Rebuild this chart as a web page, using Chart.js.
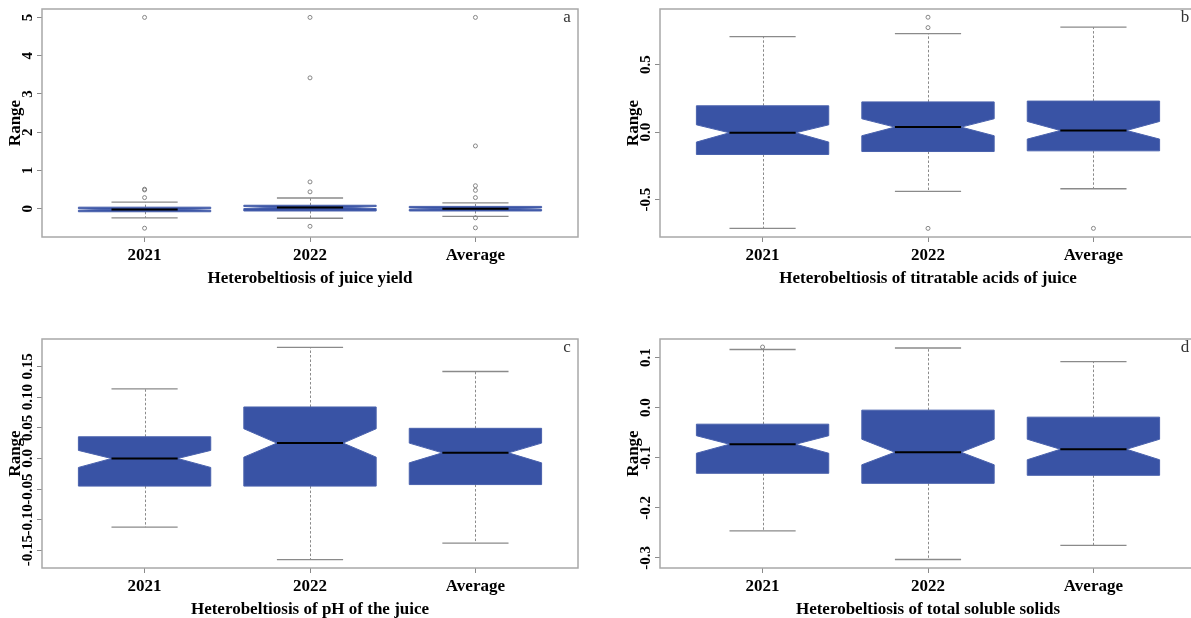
<!DOCTYPE html>
<html>
<head>
<meta charset="utf-8">
<script src="https://cdn.jsdelivr.net/npm/chart.js@4.4.1/dist/chart.umd.min.js"></script>
<style>
  html, body { margin: 0; padding: 0; background: #fff; width: 1191px; height: 618px; overflow: hidden; position: relative; }
  canvas { position: absolute; }
</style>
</head>
<body>
<canvas id="panelA"></canvas>
<canvas id="panelB"></canvas>
<canvas id="panelC"></canvas>
<canvas id="panelD"></canvas>
<script>
// ---- categories ----
const categories = ['2021', '2022', 'Average'];

// ---- (a) heterobeltiosis of juice yield ----
const yieldLow     = [-0.24, -0.25, -0.20];
const yieldQ1      = [-0.08, -0.06, -0.06];
const yieldNotchLo = [-0.041, 0.003, -0.021];
const yieldMedian  = [-0.02, 0.03, 0.00];
const yieldNotchHi = [0.001, 0.057, 0.021];
const yieldQ3      = [0.04, 0.09, 0.06];
const yieldHigh    = [0.17, 0.28, 0.15];
const yieldOut2021 = [5.00, 0.51, 0.49, 0.29, -0.51];
const yieldOut2022 = [5.00, 3.42, 0.70, 0.44, -0.46];
const yieldOutAvg  = [5.00, 1.64, 0.60, 0.48, 0.29, -0.24, -0.50];
const yieldTicks   = [0, 1, 2, 3, 4, 5];
const yieldTickLabels = ['0', '1', '2', '3', '4', '5'];

// ---- (b) heterobeltiosis of titratable acids ----
const acidLow     = [-0.714, -0.440, -0.420];
const acidQ1      = [-0.166, -0.144, -0.139];
const acidNotchLo = [-0.074, -0.027, -0.052];
const acidMedian  = [-0.005, 0.037, 0.012];
const acidNotchHi = [0.054, 0.099, 0.079];
const acidQ3      = [0.195, 0.224, 0.230];
const acidHigh    = [0.708, 0.730, 0.778];
const acidOut2021 = [];
const acidOut2022 = [0.852, 0.775, -0.714];
const acidOutAvg  = [-0.714];
const acidTicks   = [-0.5, 0, 0.5];
const acidTickLabels = ['-0.5', '0.0', '0.5'];

// ---- (c) heterobeltiosis of juice pH ----
const phLow     = [-0.112, -0.165, -0.138];
const phQ1      = [-0.045, -0.045, -0.0425];
const phNotchLo = [-0.0146, 0.0022, -0.0071];
const phMedian  = [0.000, 0.0251, 0.0092];
const phNotchHi = [0.0132, 0.0485, 0.0251];
const phQ3      = [0.0354, 0.0840, 0.0492];
const phHigh    = [0.1135, 0.181, 0.1418];
const phOut2021 = [];
const phOut2022 = [];
const phOutAvg  = [];
const phTicks   = [-0.15, -0.10, -0.05, 0, 0.05, 0.10, 0.15];
const phTickLabels = ['-0.15', '-0.10', '-0.05', '0.0', '0.05', '0.10', '0.15'];

// ---- (d) heterobeltiosis of total soluble solids ----
const tssLow     = [-0.246, -0.303, -0.275];
const tssQ1      = [-0.131, -0.151, -0.135];
const tssNotchLo = [-0.091, -0.114, -0.104];
const tssMedian  = [-0.073, -0.089, -0.083];
const tssNotchHi = [-0.056, -0.063, -0.063];
const tssQ3      = [-0.033, -0.005, -0.019];
const tssHigh    = [0.116, 0.119, 0.092];
const tssOut2021 = [0.121];
const tssOut2022 = [];
const tssOutAvg  = [];
const tssTicks   = [-0.3, -0.2, -0.1, 0, 0.1];
const tssTickLabels = ['-0.3', '-0.2', '-0.1', '0.0', '0.1'];

// ---- styling ----
const SERIF = '"Liberation Serif", "Times New Roman", serif';
const BOX_FILL = '#3953a5';
const LINE_GREY = '#8a8a8a';
const FRAME_GREY = '#a8a8a8';
const BOX_HALF = 0.4;      // half box width in category units
const NOTCH_HALF = 0.2;    // half width at the median / whisker caps
const Y_AXIS_W = 37;
const X_AXIS_H = 52;
const PAD_TOP = 9;
const PAD_RIGHT = 5;

Chart.defaults.font.family = SERIF;

function outlierPoints(lists) {
  const pts = [];
  lists.forEach((list, i) => list.forEach(v => pts.push({ x: i + 1, y: v })));
  return pts;
}

// notched box-and-whisker drawing, positioned through the chart scales
function notchedBoxPlugin(stats) {
  return {
    id: 'notchedBoxes',
    beforeDatasetsDraw(chart) {
      const { ctx, chartArea, scales: { x, y } } = chart;
      const px = v => x.getPixelForValue(v);
      const py = v => y.getPixelForValue(v);
      ctx.save();
      // frame
      ctx.strokeStyle = FRAME_GREY;
      ctx.lineWidth = 1.5;
      ctx.strokeRect(chartArea.left, chartArea.top, chartArea.right - chartArea.left, chartArea.bottom - chartArea.top);
      for (let i = 0; i < categories.length; i++) {
        const c = i + 1;
        const xc = Math.round(px(c)) + 0.5;
        const xl = px(c - BOX_HALF), xr = px(c + BOX_HALF);
        const xnl = px(c - NOTCH_HALF), xnr = px(c + NOTCH_HALF);
        // dashed whiskers
        ctx.strokeStyle = LINE_GREY;
        ctx.lineWidth = 1;
        ctx.setLineDash([2.5, 2]);
        ctx.beginPath();
        ctx.moveTo(xc, py(stats.q3[i])); ctx.lineTo(xc, py(stats.high[i]));
        ctx.moveTo(xc, py(stats.q1[i])); ctx.lineTo(xc, py(stats.low[i]));
        ctx.stroke();
        ctx.setLineDash([]);
        // whisker caps
        ctx.lineWidth = 1.3;
        ctx.beginPath();
        ctx.moveTo(xnl, py(stats.high[i])); ctx.lineTo(xnr, py(stats.high[i]));
        ctx.moveTo(xnl, py(stats.low[i])); ctx.lineTo(xnr, py(stats.low[i]));
        ctx.stroke();
        // notched box
        ctx.beginPath();
        ctx.moveTo(xl, py(stats.q3[i]));
        ctx.lineTo(xr, py(stats.q3[i]));
        ctx.lineTo(xr, py(stats.notchHi[i]));
        ctx.lineTo(xnr, py(stats.median[i]));
        ctx.lineTo(xr, py(stats.notchLo[i]));
        ctx.lineTo(xr, py(stats.q1[i]));
        ctx.lineTo(xl, py(stats.q1[i]));
        ctx.lineTo(xl, py(stats.notchLo[i]));
        ctx.lineTo(xnl, py(stats.median[i]));
        ctx.lineTo(xl, py(stats.notchHi[i]));
        ctx.closePath();
        ctx.fillStyle = BOX_FILL;
        ctx.fill();
        ctx.strokeStyle = '#4a62ad';
        ctx.lineWidth = 1;
        ctx.stroke();
        // median
        ctx.strokeStyle = '#000';
        ctx.lineWidth = 2;
        ctx.beginPath();
        ctx.moveTo(xnl, py(stats.median[i])); ctx.lineTo(xnr, py(stats.median[i]));
        ctx.stroke();
      }
      ctx.restore();
    }
  };
}

// rotated value labels on the y axis and the panel letter
function axisLabelPlugin(tickValues, tickLabels, letter) {
  return {
    id: 'rotatedTicks',
    afterDraw(chart) {
      const { ctx, chartArea, scales: { y } } = chart;
      ctx.save();
      ctx.fillStyle = '#000';
      ctx.font = 'bold 15px ' + SERIF;
      ctx.textAlign = 'center';
      ctx.textBaseline = 'middle';
      tickValues.forEach((v, k) => {
        ctx.save();
        ctx.translate(chartArea.left - 14, y.getPixelForValue(v));
        ctx.rotate(-Math.PI / 2);
        ctx.fillText(tickLabels[k], 0, 0);
        ctx.restore();
      });
      ctx.font = '17px ' + SERIF;
      ctx.fillStyle = '#333';
      ctx.fillText(letter, chartArea.right - 11, chartArea.top + 9);
      ctx.restore();
    }
  };
}

function makePanel(canvasId, plotBox, spec) {
  const canvas = document.getElementById(canvasId);
  const w = Y_AXIS_W + (plotBox.right - plotBox.left) + PAD_RIGHT;
  const h = PAD_TOP + (plotBox.bottom - plotBox.top) + X_AXIS_H;
  canvas.width = w; canvas.height = h;
  canvas.style.width = w + 'px'; canvas.style.height = h + 'px';
  canvas.style.left = (plotBox.left - Y_AXIS_W) + 'px';
  canvas.style.top = (plotBox.top - PAD_TOP) + 'px';

  return new Chart(canvas, {
    type: 'scatter',
    data: {
      datasets: [{
        data: outlierPoints(spec.outliers),
        pointStyle: 'circle',
        pointRadius: 2,
        pointBorderWidth: 0.9,
        pointBorderColor: '#7a7a7a',
        pointBackgroundColor: 'rgba(0,0,0,0)'
      }]
    },
    options: {
      responsive: false,
      animation: false,
      devicePixelRatio: 1,
      layout: { padding: { left: 0, top: PAD_TOP, right: PAD_RIGHT, bottom: 0 } },
      plugins: { legend: { display: false }, tooltip: { enabled: false } },
      scales: {
        x: {
          type: 'linear',
          min: 0.38, max: 3.62,
          afterBuildTicks: s => { s.ticks = categories.map((_, i) => ({ value: i + 1 })); },
          afterFit: s => { s.height = X_AXIS_H; },
          ticks: {
            callback: v => categories[v - 1],
            color: '#000',
            font: { family: SERIF, size: 17, weight: 'bold' },
            padding: 3,
            maxRotation: 0, minRotation: 0, autoSkip: false
          },
          grid: { drawOnChartArea: false, drawTicks: true, tickLength: 5, color: LINE_GREY, lineWidth: 1 },
          border: { display: false },
          title: {
            display: true, text: spec.title, color: '#000',
            font: { family: SERIF, size: 17, weight: 'bold' },
            padding: 0
          }
        },
        y: {
          type: 'linear',
          min: spec.yMin, max: spec.yMax,
          afterBuildTicks: s => { s.ticks = spec.ticks.map(v => ({ value: v })); },
          afterFit: s => { s.width = Y_AXIS_W; },
          ticks: { display: false },
          grid: { drawOnChartArea: false, drawTicks: true, tickLength: 5, color: LINE_GREY, lineWidth: 1 },
          border: { display: false },
          title: {
            display: true, text: 'Range', color: '#000',
            font: { family: SERIF, size: 17, weight: 'bold' },
            padding: 0
          }
        }
      }
    },
    plugins: [notchedBoxPlugin(spec.stats), axisLabelPlugin(spec.ticks, spec.tickLabels, spec.letter)]
  });
}

makePanel('panelA', { left: 42, top: 9, right: 578, bottom: 237 }, {
  letter: 'a', title: 'Heterobeltiosis of juice yield',
  yMin: -0.74, yMax: 5.22, ticks: yieldTicks, tickLabels: yieldTickLabels,
  stats: { low: yieldLow, q1: yieldQ1, notchLo: yieldNotchLo, median: yieldMedian, notchHi: yieldNotchHi, q3: yieldQ3, high: yieldHigh },
  outliers: [yieldOut2021, yieldOut2022, yieldOutAvg]
});

makePanel('panelB', { left: 660, top: 9, right: 1196, bottom: 237 }, {
  letter: 'b', title: 'Heterobeltiosis of titratable acids of juice',
  yMin: -0.778, yMax: 0.913, ticks: acidTicks, tickLabels: acidTickLabels,
  stats: { low: acidLow, q1: acidQ1, notchLo: acidNotchLo, median: acidMedian, notchHi: acidNotchHi, q3: acidQ3, high: acidHigh },
  outliers: [acidOut2021, acidOut2022, acidOutAvg]
});

makePanel('panelC', { left: 42, top: 339, right: 578, bottom: 568 }, {
  letter: 'c', title: 'Heterobeltiosis of pH of the juice',
  yMin: -0.1785, yMax: 0.1948, ticks: phTicks, tickLabels: phTickLabels,
  stats: { low: phLow, q1: phQ1, notchLo: phNotchLo, median: phMedian, notchHi: phNotchHi, q3: phQ3, high: phHigh },
  outliers: [phOut2021, phOut2022, phOutAvg]
});

makePanel('panelD', { left: 660, top: 339, right: 1196, bottom: 568 }, {
  letter: 'd', title: 'Heterobeltiosis of total soluble solids',
  yMin: -0.320, yMax: 0.137, ticks: tssTicks, tickLabels: tssTickLabels,
  stats: { low: tssLow, q1: tssQ1, notchLo: tssNotchLo, median: tssMedian, notchHi: tssNotchHi, q3: tssQ3, high: tssHigh },
  outliers: [tssOut2021, tssOut2022, tssOutAvg]
});
</script>
</body>
</html>
